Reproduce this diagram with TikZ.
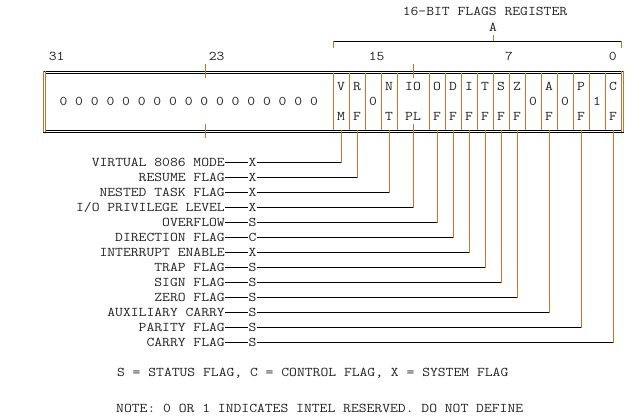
\documentclass[tikz,border=0pt]{standalone}
\usepackage{fontspec}
\setmonofont{Latin Modern Mono}[FakeStretch=1.14]
\definecolor{edge}{RGB}{196,118,48}
\definecolor{ink}{RGB}{34,34,34}
\begin{document}
\begin{tikzpicture}[x=1pt,y=-1pt,
  every node/.style={font=\ttfamily\fontsize{13.33}{16}\selectfont, text=ink, inner sep=0pt},
  cell/.style={minimum width=16pt, minimum height=57pt, align=center},
  flagname/.style={anchor=east, text height=8pt, text depth=0pt},
  kind/.style={text height=8pt, text depth=0pt},
  wire/.style={draw=black, line width=0.8pt},
  rule/.style={draw=edge, line width=0.8pt}]
\useasboundingbox (0,0) rectangle (643,420);
% title and bracket
\node (title) at (485,11) {16-BIT FLAGS REGISTER};
\node (a) at (493,27) {A};
\path[draw,wire] (333,41.5) -- (621,41.5);
\path[draw,rule] (333,41.5) -- (333,48);
\path[draw,rule] (621,41.5) -- (621,48);
\path[draw,rule] (493,41.5) -- (493,35);
% bit numbers
\node (b31) at (56.7,56) {31};
\node (b23) at (216.7,56) {23};
\node (b15) at (376.7,56) {15};
\node (b7) at (509,56) {7};
\node (b0) at (612.7,56) {0};
% register box
\path[draw,wire] (43,71) rectangle (623,132);
\path[draw,wire] (45,73) rectangle (621,130);
\foreach \x in {43,45,621,623}
  \path[draw,rule] (\x,71) -- (\x,132);
\foreach \x in {333,349,365,381,397,429,445,461,477,493,509,525,541,557,573,589,605}
  \path[draw,rule] (\x,73) -- (\x,130);
\path[draw,rule] (205,64) -- (205,78);
\path[draw,rule] (205,124) -- (205,138);
\path[draw,rule] (413,64) -- (413,78);
\path[draw,rule] (413,124) -- (413,138);
\node (zeros) at (188.7,101.5) {0 0 0 0 0 0 0 0 0 0 0 0 0 0 0 0 0};
% flag cells
\node[cell] (vm) at (341,101.5) {V\\[14pt]M};
\node[cell] (rf) at (357,101.5) {R\\[14pt]F};
\node[cell] (r15) at (373,101.5) {0};
\node[cell] (nt) at (389,101.5) {N\\[14pt]T};
\node[cell, minimum width=32pt] (iopl) at (413,101.5) {IO\\[14pt]PL};
\node[cell] (of) at (437,101.5) {O\\[14pt]F};
\node[cell] (df) at (453,101.5) {D\\[14pt]F};
\node[cell] (if) at (469,101.5) {I\\[14pt]F};
\node[cell] (tf) at (485,101.5) {T\\[14pt]F};
\node[cell] (sf) at (501,101.5) {S\\[14pt]F};
\node[cell] (zf) at (517,101.5) {Z\\[14pt]F};
\node[cell] (r5) at (533,101.5) {0};
\node[cell] (af) at (549,101.5) {A\\[14pt]F};
\node[cell] (r3) at (565,101.5) {0};
\node[cell] (pf) at (581,101.5) {P\\[14pt]F};
\node[cell] (r1) at (597,101.5) {1};
\node[cell] (cf) at (613,101.5) {C\\[14pt]F};
% flag names
\node[flagname] (nvm) at (225,162.5) {VIRTUAL 8086 MODE};
\node[flagname] (nrf) at (225,177.5) {RESUME FLAG};
\node[flagname] (nnt) at (225,192.5) {NESTED TASK FLAG};
\node[flagname] (niopl) at (225,207.5) {I/O PRIVILEGE LEVEL};
\node[flagname] (nof) at (225,222.5) {OVERFLOW};
\node[flagname] (ndf) at (225,237.5) {DIRECTION FLAG};
\node[flagname] (nif) at (225,252.5) {INTERRUPT ENABLE};
\node[flagname] (ntf) at (225,267.5) {TRAP FLAG};
\node[flagname] (nsf) at (225,282.5) {SIGN FLAG};
\node[flagname] (nzf) at (225,297.5) {ZERO FLAG};
\node[flagname] (naf) at (225,312.5) {AUXILIARY CARRY};
\node[flagname] (npf) at (225,327.5) {PARITY FLAG};
\node[flagname] (ncf) at (225,342.5) {CARRY FLAG};
% flag kinds
\node[kind] (kvm) at (252.5,162.5) {X};
\node[kind] (krf) at (252.5,177.5) {X};
\node[kind] (knt) at (252.5,192.5) {X};
\node[kind] (kiopl) at (252.5,207.5) {X};
\node[kind] (kof) at (252.5,222.5) {S};
\node[kind] (kdf) at (252.5,237.5) {C};
\node[kind] (kif) at (252.5,252.5) {X};
\node[kind] (ktf) at (252.5,267.5) {S};
\node[kind] (ksf) at (252.5,282.5) {S};
\node[kind] (kzf) at (252.5,297.5) {S};
\node[kind] (kaf) at (252.5,312.5) {S};
\node[kind] (kpf) at (252.5,327.5) {S};
\node[kind] (kcf) at (252.5,342.5) {S};
% connectors
\foreach \f in {vm,rf,nt,iopl,of,df,if,tf,sf,zf,af,pf,cf} {
  \path[draw,wire] (n\f) -- (k\f);
  \path[draw,wire] (k\f) -- (\f.south |- k\f);
  \path[draw,rule] (\f.south) -- (\f.south |- k\f);
}
% legend
\node (legend) at (312.7,373.3) {S = STATUS FLAG, C = CONTROL FLAG, X = SYSTEM FLAG};
\node (note) at (319.7,408.3) {NOTE: 0 OR 1 INDICATES INTEL RESERVED. DO NOT DEFINE};
\end{tikzpicture}
\end{document}
